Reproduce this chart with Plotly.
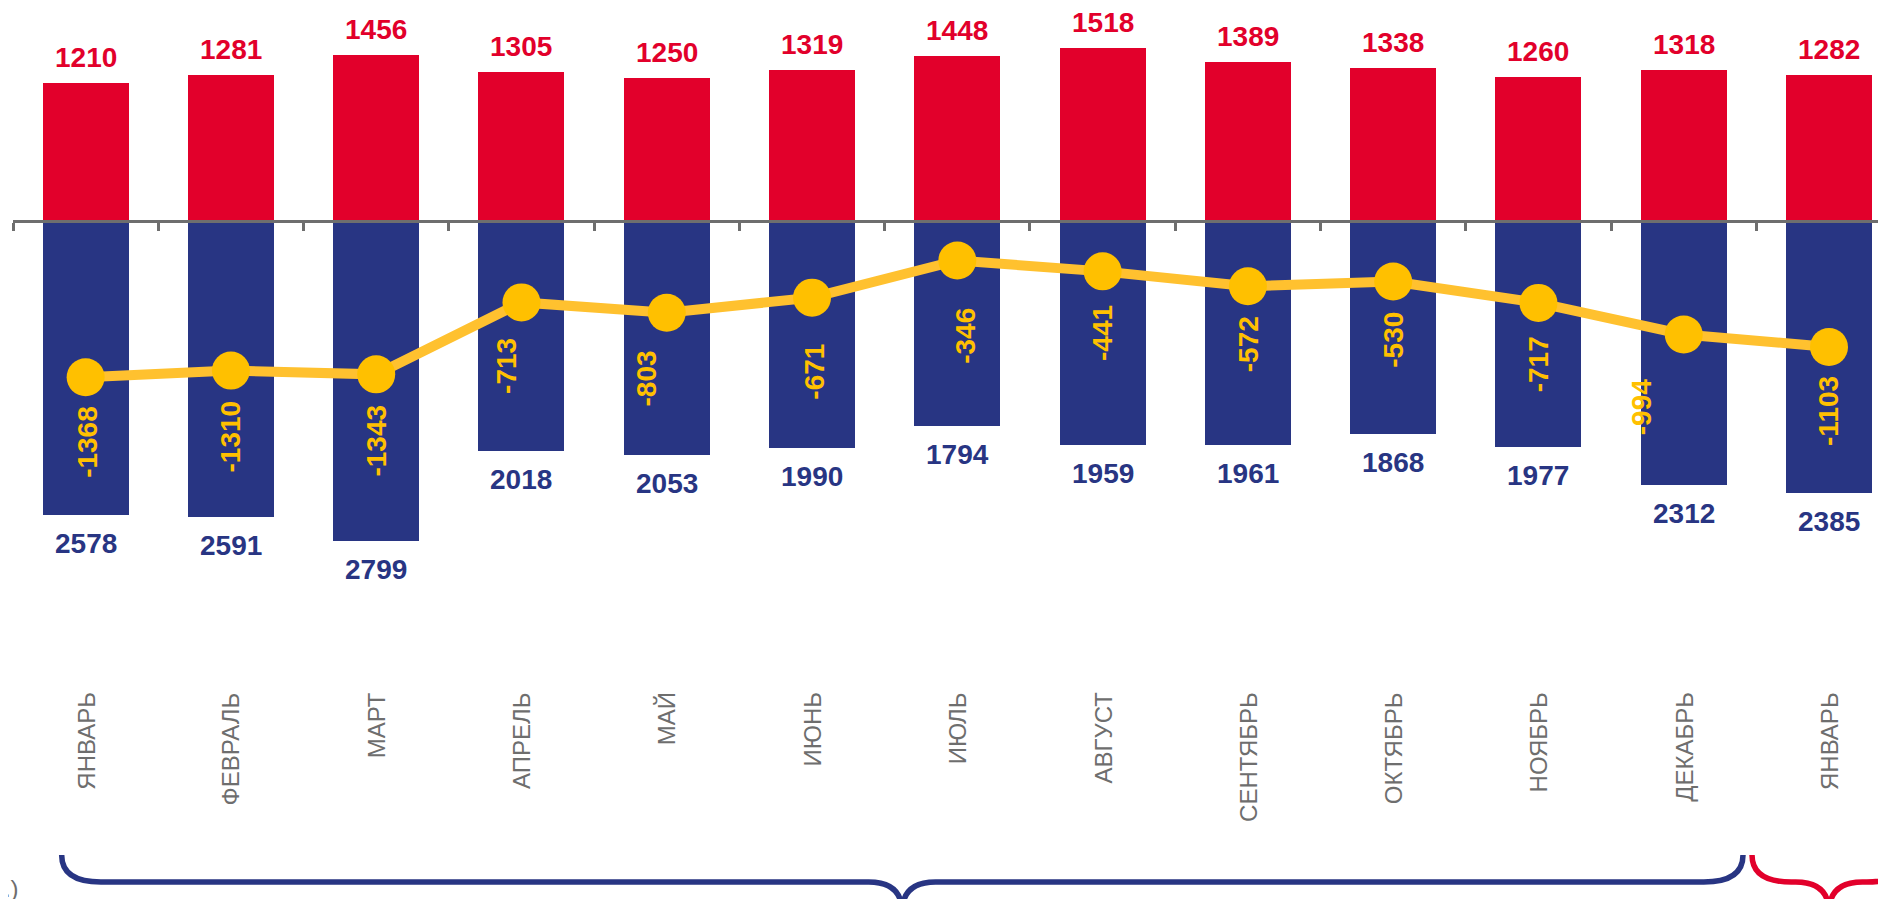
import plotly.graph_objects as go

months = ["ЯНВАРЬ", "ФЕВРАЛЬ", "МАРТ", "АПРЕЛЬ", "МАЙ", "ИЮНЬ", "ИЮЛЬ",
          "АВГУСТ", "СЕНТЯБРЬ", "ОКТЯБРЬ", "НОЯБРЬ", "ДЕКАБРЬ", "ЯНВАРЬ"]
births = [1210, 1281, 1456, 1305, 1250, 1319, 1448, 1518, 1389, 1338, 1260, 1318, 1282]
deaths = [2578, 2591, 2799, 2018, 2053, 1990, 1794, 1959, 1961, 1868, 1977, 2312, 2385]
natural = [-1368, -1310, -1343, -713, -803, -671, -346, -441, -572, -530, -717, -994, -1103]

# label offsets (pixels) for the natural-change labels
lab_dx = [2, 0, 0, -15, -20, 3, 8, 0, 0, 0, 0, -42, 0]
lab_dy = [30, 31, 31, 36, 39, 47, 48, 35, 31, 31, 34, 46, 30]

RED = "#E2002B"
BLUE = "#283583"
YEL = "#FFC000"
YEL_LINE = "#FFC12F"
GRAY = "#6E6E6E"
FONT = "Liberation Sans, Arial, sans-serif"

OFF = 8                    # page body margin
W, H = 1886 - 2 * OFF, 907 - 2 * OFF
zero_px = 221 - OFF
px_per_unit = 0.1142
ymax = zero_px / px_per_unit
ymin = -(H - zero_px) / px_per_unit


def py(ref_px):
    """reference page pixel row -> paper fraction"""
    return 1 - (ref_px - OFF) / H


x = list(range(len(months)))

fig = go.Figure()
fig.add_trace(go.Bar(x=x, y=births, marker_color=RED, width=0.592,
                     marker_line_width=0, hoverinfo="skip"))
fig.add_trace(go.Bar(x=x, y=[-d for d in deaths], marker_color=BLUE, width=0.592,
                     marker_line_width=0, hoverinfo="skip"))
fig.add_trace(go.Scatter(x=x, y=natural, mode="lines+markers",
                         line=dict(color=YEL_LINE, width=10),
                         marker=dict(color=YEL, size=38), hoverinfo="skip"))

ann = []
for i in x:
    ann.append(dict(x=i, y=births[i], text=str(births[i]), showarrow=False,
                    yanchor="bottom", yshift=8,
                    font=dict(family=FONT, size=28, color=RED, weight="bold")))
    ann.append(dict(x=i, y=-deaths[i], text=str(deaths[i]), showarrow=False,
                    yanchor="top", yshift=-11,
                    font=dict(family=FONT, size=28, color=BLUE, weight="bold")))
    ann.append(dict(x=i, y=natural[i], text=str(natural[i]), showarrow=False,
                    textangle=-90, yanchor="top", yshift=-(lab_dy[i] - 3),
                    xshift=lab_dx[i],
                    font=dict(family=FONT, size=28, color=YEL, weight="bold")))
    ann.append(dict(x=i, y=py(690), yref="paper", text=months[i], showarrow=False,
                    textangle=-90, yanchor="top",
                    font=dict(family=FONT, size=24, color=GRAY)))

ann.append(dict(x=(16 - OFF) / W, y=py(888), xref="paper", yref="paper",
                text="(2023 г.)", showarrow=False, xanchor="right", yanchor="middle",
                font=dict(family=FONT, size=24, color=GRAY)))


def brace(x0, x1, xc, top, mid, bot, rx, rc):
    return (f"M {x0},{top} Q {x0},{mid} {x0 + rx},{mid} "
            f"L {xc - rc},{mid} Q {xc},{mid} {xc},{bot} "
            f"Q {xc},{mid} {xc + rc},{mid} "
            f"L {x1 - rx},{mid} Q {x1},{mid} {x1},{top}")


top_p, mid_p, bot_p = py(855), py(882), py(912)
shapes = [
    dict(type="path", xref="x", yref="paper",
         path=brace(0 - 0.165, 11 + 0.408, 5.62, top_p, mid_p, bot_p, 0.27, 0.23),
         line=dict(color=BLUE, width=5.5)),
    dict(type="path", xref="x", yref="paper",
         path=brace(12 - 0.53, 12 + 0.53, 12, top_p, mid_p, bot_p, 0.27, 0.23),
         line=dict(color=RED, width=5.5)),
]

left_px = 13.4 - OFF
units = (W - left_px) / 145.25
fig.update_layout(
    width=W, height=H,
    margin=dict(l=left_px, r=0, t=0, b=0),
    paper_bgcolor="white", plot_bgcolor="white",
    barmode="relative", bargap=0, showlegend=False,
    annotations=ann, shapes=shapes,
    xaxis=dict(range=[-0.5, -0.5 + units], anchor="free",
               position=(0 - ymin) / (ymax - ymin),
               showline=True, linecolor=GRAY, linewidth=3,
               ticks="outside", ticklen=8, tickwidth=2.5, tickcolor=GRAY,
               tickvals=[i - 0.5 for i in range(len(months) + 1)],
               showticklabels=False, showgrid=False, zeroline=False),
    yaxis=dict(range=[ymin, ymax], visible=False, showgrid=False, zeroline=False),
)

fig.write_html("out.html")
